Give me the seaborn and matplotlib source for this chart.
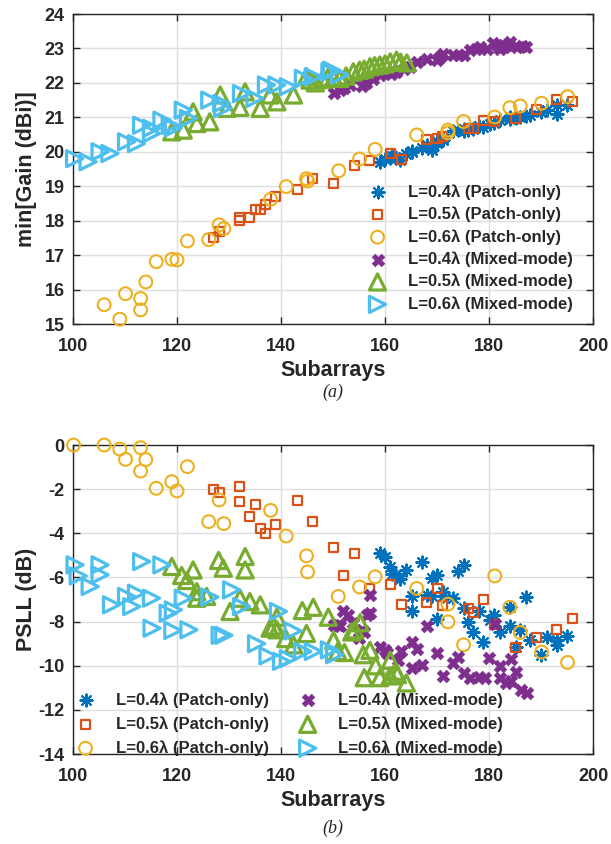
import matplotlib
matplotlib.use("Agg")
import matplotlib.pyplot as plt
import seaborn as sns

sns.set_theme(style="whitegrid")
plt.rcParams['font.family'] = ['Liberation Sans', 'DejaVu Sans']
plt.rcParams['font.weight'] = 'bold'
plt.rcParams['axes.labelweight'] = 'bold'
plt.rcParams['axes.unicode_minus'] = False

# ---------------- (a) min[Gain] data ----------------
x_p04_a = [159.0, 160.0, 161.0, 161.3, 161.9, 162.9, 164.0, 165.1, 165.1, 167.1,
           168.0, 169.0, 169.0, 169.9, 169.9, 171.1, 171.1, 173.1, 174.1, 175.1,
           175.1, 176.0, 177.0, 178.1, 178.9, 180.1, 181.0, 182.1, 184.0, 184.0,
           185.1, 186.0, 187.1, 187.9, 190.0, 191.1, 193.0, 193.0, 194.9]
g_p04 = [19.71, 19.80, 19.83, 19.88, 19.85, 19.77, 19.95, 20.03, 19.98, 20.12,
         20.20, 20.05, 20.15, 20.30, 20.25, 20.40, 20.35, 20.60, 20.62, 20.65,
         20.60, 20.62, 20.66, 20.74, 20.72, 20.82, 20.85, 20.92, 21.00, 20.95,
         20.98, 21.00, 21.03, 21.06, 21.16, 21.20, 21.35, 21.10, 21.35]

x_p05_a = [127.1, 128.1, 132.1, 132.1, 134.0, 135.1, 136.0, 137.1, 139.0, 143.1,
           146.1, 150.1, 154.1, 157.1, 161.0, 163.1, 168.0, 170.0, 171.1, 176.0,
           177.1, 179.0, 181.1, 185.1, 189.2, 193.0, 196.1]
g_p05 = [17.51, 17.69, 18.09, 18.01, 18.08, 18.33, 18.33, 18.47, 18.69, 18.90,
         19.22, 19.09, 19.60, 19.75, 19.95, 19.79, 20.36, 20.39, 20.45, 20.69,
         20.68, 20.90, 20.89, 20.97, 21.24, 21.52, 21.47]

x_p06_a = [106.0, 109.0, 110.1, 113.0, 113.0, 114.0, 116.0, 119.0, 120.0, 122.0,
           126.1, 128.1, 129.0, 138.0, 141.0, 144.9, 145.1, 151.1, 155.1, 158.1,
           166.1, 172.1, 172.1, 175.1, 181.1, 184.0, 186.0, 190.1, 195.1]
g_p06 = [15.56, 15.14, 15.88, 15.74, 15.41, 16.22, 16.81, 16.88, 16.86, 17.41,
         17.45, 17.88, 17.77, 18.62, 18.99, 19.22, 19.15, 19.45, 19.79, 20.07,
         20.49, 20.63, 20.55, 20.88, 21.01, 21.28, 21.33, 21.41, 21.60]

x_m04_a = [150.1, 151.3, 152.2, 153.3, 155.5, 156.4, 157.6, 159.0, 160.3, 161.2,
           162.2, 163.6, 164.8, 166.1, 168.0, 169.9, 170.6, 171.2, 173.1, 174.2,
           175.1, 176.3, 177.5, 178.3, 179.6, 180.8, 181.6, 182.1, 182.8, 183.4,
           184.0, 185.3, 186.3, 187.2]
g_m04 = [21.70, 21.79, 21.85, 21.94, 21.91, 22.00, 22.10, 22.23, 22.33, 22.26,
         22.32, 22.40, 22.47, 22.61, 22.68, 22.66, 22.75, 22.84, 22.81, 22.80,
         22.81, 22.95, 22.98, 23.05, 22.98, 23.17, 23.10, 22.97, 23.04, 23.10,
         23.20, 23.04, 23.06, 23.05]

x_m05_a = [119.0, 121.2, 123.1, 123.8, 126.3, 128.3, 129.6, 132.1, 133.1, 136.0,
           137.9, 139.2, 142.4, 144.9, 145.6, 146.6, 148.0, 149.0, 150.1, 151.3,
           152.5, 153.9, 155.1, 156.0, 157.1, 158.0, 159.0, 160.0, 161.0, 162.2,
           163.0, 164.2]
g_m05 = [20.58, 20.63, 21.16, 20.82, 20.87, 21.65, 21.26, 21.29, 21.74, 21.26,
         21.65, 21.45, 21.65, 22.18, 22.08, 22.00, 22.10, 22.15, 22.13, 22.13,
         22.20, 22.32, 22.37, 22.40, 22.47, 22.50, 22.52, 22.55, 22.61, 22.66,
         22.60, 22.58]

x_m06_a = [100.3, 102.9, 105.2, 107.1, 110.3, 112.2, 113.2, 115.1, 115.1, 117.1,
           118.7, 119.3, 121.2, 122.2, 126.3, 128.6, 128.8, 132.4, 135.0, 137.2,
           139.2, 141.4, 144.3, 146.2, 149.4, 149.7, 151.3]
g_m06 = [19.80, 19.71, 20.00, 19.95, 20.29, 20.24, 20.77, 20.68, 20.53, 20.92,
         20.77, 20.70, 21.21, 20.97, 21.50, 21.40, 21.26, 21.69, 21.55, 21.94,
         21.94, 21.89, 22.13, 22.18, 22.32, 22.37, 22.23]

# ---------------- (b) PSLL data ----------------
x_p04_b = x_p04_a
s_p04 = [-4.90, -5.08, -5.54, -5.84, -5.91, -6.06, -5.66, -6.86, -7.51, -5.32,
         -6.79, -6.03, -6.86, -5.88, -7.89, -6.64, -6.83, -6.91, -5.69, -5.43,
         -7.39, -8.04, -8.48, -7.54, -8.93, -7.92, -7.69, -8.45, -7.32, -8.22,
         -9.13, -8.37, -6.89, -8.82, -9.50, -8.72, -8.82, -9.05, -8.63]

x_p05_b = [127.1, 128.1, 132.1, 132.1, 134.0, 135.1, 136.0, 137.1, 139.0, 143.1,
           146.1, 150.1, 152.0, 154.1, 157.1, 161.0, 163.1, 168.0, 170.0, 171.1,
           176.0, 177.1, 179.0, 181.1, 185.1, 189.2, 193.0, 196.1]
s_p05 = [-2.00, -2.16, -1.89, -2.58, -3.23, -2.71, -3.77, -4.00, -3.62, -2.52,
         -3.47, -4.65, -5.91, -4.93, -6.49, -6.31, -7.21, -7.15, -6.50, -7.27,
         -7.42, -7.57, -6.98, -8.11, -9.16, -8.72, -8.37, -7.87]

x_p06_b = [100.1, 106.0, 109.0, 110.1, 113.0, 113.0, 114.0, 116.0, 119.0, 120.0,
           122.0, 126.1, 128.1, 129.0, 138.0, 141.0, 144.9, 145.1, 151.0, 155.1,
           158.1, 166.1, 172.1, 172.1, 175.1, 181.1, 184.0, 186.0, 190.1, 195.1]
s_p06 = [0.0, 0.0, -0.18, -0.65, -0.12, -1.18, -0.66, -1.96, -1.66, -2.08,
         -0.98, -3.47, -2.49, -3.56, -2.96, -4.12, -5.02, -5.75, -6.86, -6.43,
         -5.97, -6.50, -7.21, -8.01, -9.05, -5.93, -7.35, -8.49, -9.38, -9.85]

x_m04_b = [150.1, 150.9, 151.3, 152.0, 152.9, 153.9, 155.0, 155.5, 156.0, 156.5,
           157.1, 157.1, 159.0, 160.0, 160.4, 162.4, 163.1, 165.1, 166.1, 165.1,
           167.1, 168.0, 170.0, 171.1, 173.1, 174.1, 175.1, 176.3, 178.0, 179.2,
           180.0, 181.2, 182.1, 182.2, 183.3, 184.2, 184.3, 185.1, 186.1, 187.3]
s_m04 = [-8.14, -8.16, -8.19, -7.54, -7.69, -8.07, -8.75, -8.37, -8.47, -7.69,
         -6.79, -7.60, -9.17, -9.28, -9.43, -9.75, -9.35, -8.92, -9.22, -10.10,
         -9.95, -8.20, -9.43, -10.45, -9.88, -9.62, -10.35, -10.55, -10.50, -10.55,
         -9.66, -8.10, -9.99, -10.55, -10.78, -9.70, -10.70, -10.30, -11.10, -11.25]

x_m05_b = [119.0, 120.9, 121.9, 123.1, 123.8, 123.8, 125.7, 128.0, 128.9, 130.2,
           132.1, 133.1, 133.1, 134.0, 136.0, 137.9, 138.6, 139.2, 139.2, 140.9,
           142.4, 144.1, 144.9, 146.2, 149.1, 150.1, 150.9, 152.2, 153.6, 154.2,
           155.2, 155.8, 156.0, 157.1, 158.2, 159.0, 161.0, 161.0, 162.0, 162.4,
           164.1]
s_m05 = [-5.50, -5.91, -6.14, -5.66, -6.64, -6.94, -6.86, -5.23, -5.58, -7.54,
         -6.94, -5.05, -5.66, -7.09, -7.24, -8.30, -8.20, -7.80, -8.37, -8.77,
         -9.05, -7.50, -8.54, -7.35, -7.80, -8.85, -9.35, -9.40, -8.47, -8.37,
         -8.05, -9.50, -10.54, -9.30, -10.00, -10.54, -9.75, -10.46, -10.25, -10.40,
         -10.78]

x_m06_b = [100.4, 101.0, 103.3, 105.2, 105.2, 107.4, 110.3, 111.3, 112.2, 113.2,
           115.1, 115.2, 117.1, 118.3, 119.3, 119.2, 121.2, 122.3, 126.3, 128.3,
           129.0, 130.5, 132.4, 135.3, 137.5, 139.5, 140.1, 141.4, 142.3, 144.2,
           146.2, 149.3, 150.3]
s_m06 = [-5.43, -5.93, -6.41, -5.43, -5.88, -7.24, -6.86, -7.32, -6.71, -5.28,
         -6.94, -8.30, -5.43, -7.62, -7.47, -8.40, -6.94, -8.37, -6.89, -8.62,
         -8.62, -6.56, -7.32, -9.00, -9.55, -7.54, -9.80, -9.68, -8.42, -9.35,
         -9.35, -9.28, -9.50]

labels = ['L=0.4λ (Patch-only)', 'L=0.5λ (Patch-only)', 'L=0.6λ (Patch-only)',
          'L=0.4λ (Mixed-mode)', 'L=0.5λ (Mixed-mode)', 'L=0.6λ (Mixed-mode)']
colors = ['#0072BD', '#D95319', '#EDB120', '#7E2F8E', '#77AC30', '#4DBEEE']

# marker, size, linewidth, hollow
styles = [((8, 2, 0), 75, 1.5, False),
          ('s', 42, 1.6, True),
          ('o', 85, 1.5, True),
          ('X', 82, 0.0, False),
          ('^', 135, 2.3, True),
          ('>', 135, 2.3, True)]

series_a = [(x_p04_a, g_p04), (x_p05_a, g_p05), (x_p06_a, g_p06),
            (x_m04_a, g_m04), (x_m05_a, g_m05), (x_m06_a, g_m06)]
series_b = [(x_p04_b, s_p04), (x_p05_b, s_p05), (x_p06_b, s_p06),
            (x_m04_b, s_m04), (x_m05_b, s_m05), (x_m06_b, s_m06)]

fig = plt.figure(figsize=(6.11, 8.44), dpi=100)
ax1 = fig.add_axes([0.1195, 0.6161, 0.8511, 0.3673])
ax2 = fig.add_axes([0.1195, 0.1066, 0.8511, 0.3661])


def draw(ax, series):
    for i, (xs, ys) in enumerate(series):
        mk, sz, lw, hollow = styles[i]
        c = colors[i]
        if hollow:
            sns.scatterplot(x=xs, y=ys, ax=ax, marker=mk, s=sz, color=c,
                            facecolor='none', edgecolor=c, linewidth=lw,
                            label=labels[i], clip_on=False, zorder=3 + i)
        elif mk == 'X':
            sns.scatterplot(x=xs, y=ys, ax=ax, marker=mk, s=sz, color=c,
                            edgecolor=c, linewidth=0.5,
                            label=labels[i], clip_on=False, zorder=3 + i)
        else:
            sns.scatterplot(x=xs, y=ys, ax=ax, marker=mk, s=sz, color=c,
                            linewidth=lw, label=labels[i], clip_on=False,
                            zorder=3 + i)
    ax.set_xlim(100, 200)
    ax.set_xticks(range(100, 201, 20))
    ax.grid(True, color='#dedede', linewidth=1.0)
    for sp in ax.spines.values():
        sp.set_color('#262626')
        sp.set_linewidth(1.0)
    ax.tick_params(direction='in', length=5, width=1, colors='#262626',
                   top=True, right=True, bottom=True, left=True,
                   labelsize=13, pad=6)
    ax.tick_params(axis='x', pad=10)
    for t in ax.get_xticklabels() + ax.get_yticklabels():
        t.set_fontweight('bold')
    ax.set_xlabel('Subarrays', fontsize=15.5, fontweight='bold', color='#262626')


draw(ax1, series_a)
ax1.set_ylim(15, 24)
ax1.set_yticks(range(15, 25))
ax1.set_ylabel('min[Gain (dBi)]', fontsize=15.5, fontweight='bold', color='#262626')
ax1.yaxis.set_label_coords(-0.07, 0.5)
ax1.legend(loc='upper left', bbox_to_anchor=(0.5615, 0.451), frameon=False,
           fontsize=12, borderpad=0, borderaxespad=0, handlelength=1.5,
           handletextpad=1.05, labelspacing=0.41)

draw(ax2, series_b)
ax2.set_ylim(-14, 0)
ax2.set_yticks(range(-14, 1, 2))
ax2.set_ylabel('PSLL (dB)', fontsize=15.5, fontweight='bold', color='#262626')
ax2.yaxis.set_label_coords(-0.07, 0.5)
ax2.legend(loc='upper left', bbox_to_anchor=(0.0, 0.2), frameon=False,
           fontsize=12, ncol=2, borderpad=0, borderaxespad=0,
           handlelength=1.5, handletextpad=1.05, labelspacing=0.5,
           columnspacing=1.6)

fig.text(0.545, 1 - 392 / 844, '(a)', ha='center', va='center', fontsize=13,
         fontstyle='italic', fontweight='normal', family='Liberation Serif')
fig.text(0.545, 1 - 828 / 844, '(b)', ha='center', va='center', fontsize=13,
         fontstyle='italic', fontweight='normal', family='Liberation Serif')

fig.savefig('out.png', dpi=100)
